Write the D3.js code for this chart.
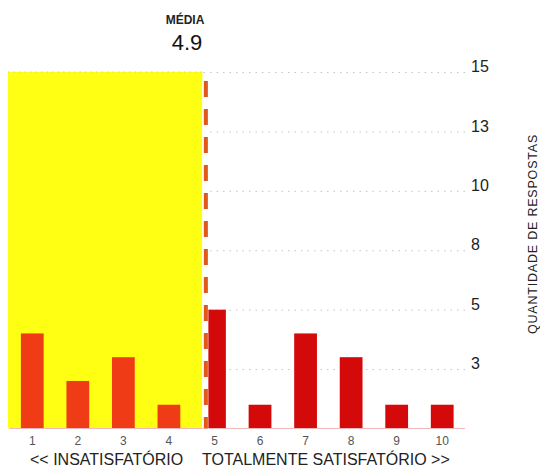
<!DOCTYPE html>
<html><head><meta charset="utf-8">
<script src="https://cdn.jsdelivr.net/npm/d3@7"></script>
<style>
body{margin:0;background:#fff;}
svg{display:block;font-family:"Liberation Sans",Arial,sans-serif;}
</style></head>
<body><svg id="c" width="540" height="469"></svg>
<script>
const categories = [1,2,3,4,5,6,7,8,9,10];
const counts = [4,2,3,1,5,1,4,3,1,1];
const tickValues = [2.5,5,7.5,10,12.5,15];
const tickLabels = ["3","5","8","10","13","15"];
const meanLabel = "4.9";
const meanLinePos = 4.8;
const yMax = 15;

const svg = d3.select("#c");
const pLeft = 9.5, pRight = 465, pBase = 428.5, pTop = 72;

const x = d3.scaleBand().domain(categories).range([pLeft, pRight]).paddingInner(0.5).paddingOuter(0.25);
const y = d3.scaleLinear().domain([0, yMax]).range([pBase, pTop]);
const step = x.step();
const xc = v => x(1) + x.bandwidth()/2 + (v - 1) * step;
const mx = xc(meanLinePos);

// gridlines
const grid = svg.append("g").attr("transform", `translate(${pRight},0)`)
  .call(d3.axisLeft(y).tickValues(tickValues).tickSize(pRight - pLeft).tickFormat(""));
grid.select(".domain").remove();
grid.selectAll("line").attr("stroke", "#c4c4c4").attr("stroke-dasharray", "1.5,5");

// yellow region
svg.append("rect").attr("x", 8).attr("y", y(yMax)).attr("width", mx - 3 - 8).attr("height", pBase - y(yMax)).attr("fill", "#ffff14");
svg.append("line").attr("x1", 8).attr("x2", mx - 3).attr("y1", y(yMax)).attr("y2", y(yMax))
  .attr("stroke", "#d8d080").attr("stroke-dasharray", "1.5,4");

// bars
svg.selectAll("rect.bar").data(categories).join("rect").attr("class", "bar")
  .attr("x", d => x(d)).attr("width", x.bandwidth())
  .attr("y", (d, i) => y(counts[i])).attr("height", (d, i) => pBase - y(counts[i]))
  .attr("fill", d => d < meanLinePos ? "#f03c16" : "#d40a0a");

// baseline
svg.append("line").attr("x1", pLeft).attr("x2", pRight).attr("y1", pBase).attr("y2", pBase)
  .attr("stroke", "#f0b8b8").attr("stroke-width", 1.2);

// mean line
svg.append("rect").attr("x", mx - 3).attr("y", 81).attr("width", 6).attr("height", pBase - 81).attr("fill", "#fff");
svg.append("line").attr("x1", mx + 0.5).attr("x2", mx + 0.5).attr("y1", 81).attr("y2", pBase)
  .attr("stroke", "#e2581c").attr("stroke-width", 4).attr("stroke-dasharray", "16,12");

// mean text
svg.append("text").attr("x", 185).attr("y", 24).attr("text-anchor", "middle")
  .attr("font-size", 12).attr("font-weight", "bold").attr("fill", "#222").text("MÉDIA");
svg.append("text").attr("x", 187).attr("y", 50).attr("text-anchor", "middle")
  .attr("font-size", 22).attr("fill", "#111").text(meanLabel);

// right axis labels
const ra = svg.append("g").attr("transform", `translate(469,0)`)
  .call(d3.axisRight(y).tickValues(tickValues).tickSize(0).tickPadding(2).tickFormat((d, i) => tickLabels[i]));
ra.select(".domain").remove();
ra.selectAll("text").attr("font-size", 16).attr("fill", "#222").attr("dy", "-0.02em")
  .attr("font-family", "Liberation Sans, Arial, sans-serif");

// bottom axis
const ba = svg.append("g").attr("transform", `translate(0,${pBase})`)
  .call(d3.axisBottom(x).tickSize(0).tickPadding(8));
ba.select(".domain").remove();
ba.selectAll("text").attr("font-size", 12).attr("fill", "#555")
  .attr("font-family", "Liberation Sans, Arial, sans-serif");

// bottom captions
svg.append("text").attr("x", 30).attr("y", 465).attr("font-size", 16).attr("fill", "#222").text("<< INSATISFATÓRIO");
svg.append("text").attr("x", 202).attr("y", 465).attr("font-size", 16).attr("fill", "#222").text("TOTALMENTE SATISFATÓRIO >>");

// y title
svg.append("text").attr("transform", "translate(537,234) rotate(-90)").attr("text-anchor", "middle")
  .attr("font-size", 12.5).attr("letter-spacing", "0.8px").attr("fill", "#222").text("QUANTIDADE DE RESPOSTAS");
</script></body></html>
